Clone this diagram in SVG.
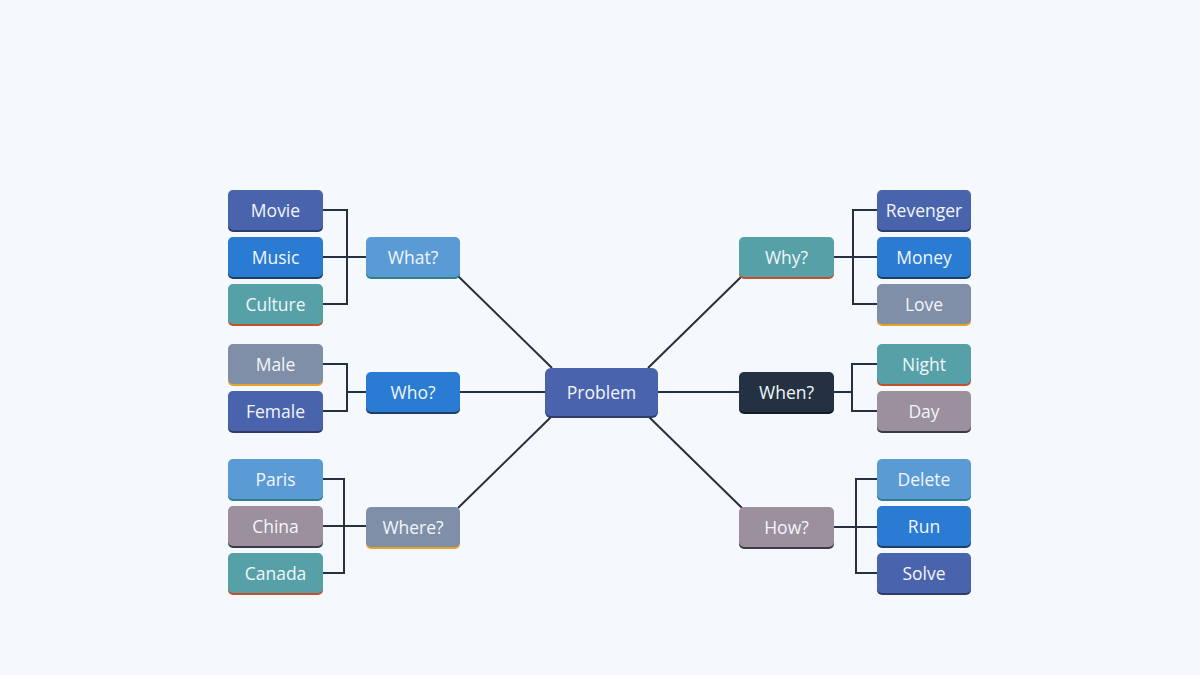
<svg xmlns="http://www.w3.org/2000/svg" width="1200" height="675" viewBox="0 0 1200 675">
<style>
.bg{fill:#f5f9fd}
.c{fill:none;stroke:#253040;stroke-width:2}
text{font-family:"Open Sans","Noto Sans","Liberation Sans",sans-serif;font-size:17.5px;fill:#f2f6fb;text-anchor:middle}
.b1{fill:#4a63ad}.b2{fill:#2a7bd2}.b3{fill:#56a0a8}.b4{fill:#5b9bd5}.b5{fill:#7f8fa8}.b6{fill:#9c8f9e}.b7{fill:#243142}
.eDark{fill:#2e3c6a}.eNavy{fill:#1f3d66}.eRed{fill:#c4502c}.eOr{fill:#e6a32a}.eTeal{fill:#2f7f8a}.eGr{fill:#3a3a48}.eBk{fill:#151d28}
</style>
<rect class="bg" width="1200" height="675"/>
<g id="connectors">
<path class="c" d="M460,392 H545 M658,392 H739 M458,276 L552,368 M742,276 L648,368 M458,508 L552,416 M742,508 L648,416"/>
<path class="c" d="M323,210 H347 V304 H323 M323,257 H366"/>
<path class="c" d="M323,364 H347 V411 H323 M347,392 H366"/>
<path class="c" d="M323,479 H344 V573 H323 M323,526 H366"/>
<path class="c" d="M877,210 H853 V304 H877 M834,257 H877"/>
<path class="c" d="M877,364 H852 V411 H877 M834,392 H852"/>
<path class="c" d="M877,479 H856 V573 H877 M834,527 H877"/>
</g>
<g id="problem"><rect class="eDark" x="545" y="370" width="113" height="48" rx="6"/><rect class="b1" x="545" y="368" width="113" height="48" rx="6"/><text x="601.5" y="399">Problem</text></g>
<g id="what"><rect class="eTeal" x="366" y="239" width="94" height="40" rx="5"/><rect class="b4" x="366" y="237" width="94" height="40" rx="5"/><text x="413" y="264">What?</text></g>
<g id="who"><rect class="eNavy" x="366" y="374" width="94" height="40" rx="5"/><rect class="b2" x="366" y="372" width="94" height="40" rx="5"/><text x="413" y="399">Who?</text></g>
<g id="where"><rect class="eOr" x="366" y="509" width="94" height="40" rx="5"/><rect class="b5" x="366" y="507" width="94" height="40" rx="5"/><text x="413" y="534">Where?</text></g>
<g id="why"><rect class="eRed" x="739" y="239" width="95" height="40" rx="5"/><rect class="b3" x="739" y="237" width="95" height="40" rx="5"/><text x="786.5" y="264">Why?</text></g>
<g id="when"><rect class="eBk" x="739" y="374" width="95" height="40" rx="5"/><rect class="b7" x="739" y="372" width="95" height="40" rx="5"/><text x="786.5" y="399">When?</text></g>
<g id="how"><rect class="eGr" x="739" y="509" width="95" height="40" rx="5"/><rect class="b6" x="739" y="507" width="95" height="40" rx="5"/><text x="786.5" y="534">How?</text></g>
<g id="movie"><rect class="eDark" x="228" y="192" width="95" height="40" rx="5"/><rect class="b1" x="228" y="190" width="95" height="40" rx="5"/><text x="275.5" y="217">Movie</text></g>
<g id="music"><rect class="eNavy" x="228" y="239" width="95" height="40" rx="5"/><rect class="b2" x="228" y="237" width="95" height="40" rx="5"/><text x="275.5" y="264">Music</text></g>
<g id="culture"><rect class="eRed" x="228" y="286" width="95" height="40" rx="5"/><rect class="b3" x="228" y="284" width="95" height="40" rx="5"/><text x="275.5" y="311">Culture</text></g>
<g id="male"><rect class="eOr" x="228" y="346" width="95" height="40" rx="5"/><rect class="b5" x="228" y="344" width="95" height="40" rx="5"/><text x="275.5" y="371">Male</text></g>
<g id="female"><rect class="eDark" x="228" y="393" width="95" height="40" rx="5"/><rect class="b1" x="228" y="391" width="95" height="40" rx="5"/><text x="275.5" y="418">Female</text></g>
<g id="paris"><rect class="eTeal" x="228" y="461" width="95" height="40" rx="5"/><rect class="b4" x="228" y="459" width="95" height="40" rx="5"/><text x="275.5" y="486">Paris</text></g>
<g id="china"><rect class="eGr" x="228" y="508" width="95" height="40" rx="5"/><rect class="b6" x="228" y="506" width="95" height="40" rx="5"/><text x="275.5" y="533">China</text></g>
<g id="canada"><rect class="eRed" x="228" y="555" width="95" height="40" rx="5"/><rect class="b3" x="228" y="553" width="95" height="40" rx="5"/><text x="275.5" y="580">Canada</text></g>
<g id="revenger"><rect class="eDark" x="877" y="192" width="94" height="40" rx="5"/><rect class="b1" x="877" y="190" width="94" height="40" rx="5"/><text x="924" y="217">Revenger</text></g>
<g id="money"><rect class="eNavy" x="877" y="239" width="94" height="40" rx="5"/><rect class="b2" x="877" y="237" width="94" height="40" rx="5"/><text x="924" y="264">Money</text></g>
<g id="love"><rect class="eOr" x="877" y="286" width="94" height="40" rx="5"/><rect class="b5" x="877" y="284" width="94" height="40" rx="5"/><text x="924" y="311">Love</text></g>
<g id="night"><rect class="eRed" x="877" y="346" width="94" height="40" rx="5"/><rect class="b3" x="877" y="344" width="94" height="40" rx="5"/><text x="924" y="371">Night</text></g>
<g id="day"><rect class="eGr" x="877" y="393" width="94" height="40" rx="5"/><rect class="b6" x="877" y="391" width="94" height="40" rx="5"/><text x="924" y="418">Day</text></g>
<g id="delete"><rect class="eTeal" x="877" y="461" width="94" height="40" rx="5"/><rect class="b4" x="877" y="459" width="94" height="40" rx="5"/><text x="924" y="486">Delete</text></g>
<g id="run"><rect class="eNavy" x="877" y="508" width="94" height="40" rx="5"/><rect class="b2" x="877" y="506" width="94" height="40" rx="5"/><text x="924" y="533">Run</text></g>
<g id="solve"><rect class="eDark" x="877" y="555" width="94" height="40" rx="5"/><rect class="b1" x="877" y="553" width="94" height="40" rx="5"/><text x="924" y="580">Solve</text></g>
</svg>
